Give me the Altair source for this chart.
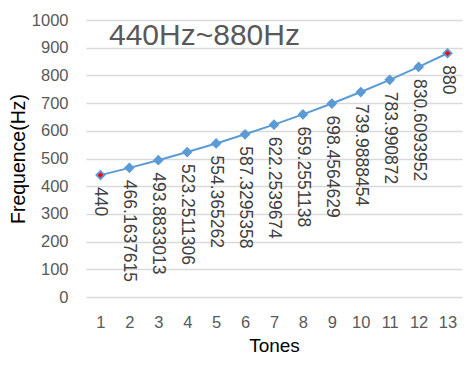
import altair as alt
import pandas as pd

tones = list(range(1, 14))
freqs = [440, 466.1637615, 493.8833013, 523.2511306, 554.365262, 587.3295358,
         622.2539674, 659.2551138, 698.4564629, 739.9888454, 783.990872,
         830.6093952, 880]
labels = ["440", "466.1637615", "493.8833013", "523.2511306", "554.365262",
          "587.3295358", "622.2539674", "659.2551138", "698.4564629",
          "739.9888454", "783.990872", "830.6093952", "880"]
highlight = [True] + [False] * 11 + [True]

df = pd.DataFrame({"tone": tones, "freq": freqs, "label": labels, "hl": highlight})

FONT = "Liberation Sans"
BLUE = "#5B9BD5"

x = alt.X("tone:O", scale=alt.Scale(type="point", padding=0.5),
          axis=alt.Axis(title="Tones", labelAngle=0, labelFontSize=16.5, labelColor="#595959",
                        labelFont=FONT, titleFont=FONT, titleFontSize=19, titleFontWeight="normal",
                        titleColor="#000000", labelPadding=17, titlePadding=6,
                        ticks=False, domain=False, grid=False))
y = alt.Y("freq:Q", scale=alt.Scale(domain=[0, 1000], nice=False),
          axis=alt.Axis(title="Frequence(Hz)", values=list(range(0, 1001, 100)), format="d",
                        labelFontSize=16.5, labelColor="#595959", labelFont=FONT,
                        titleFont=FONT, titleFontSize=19.5, titleFontWeight="normal",
                        titleColor="#000000", labelPadding=18, titlePadding=3,
                        ticks=False, domain=False, gridColor="#D9D9D9", gridWidth=1.5))

base = alt.Chart(df)
line = base.mark_line(color=BLUE, strokeWidth=2).encode(x=x, y=y)
pts = base.mark_point(shape="diamond", filled=True, color=BLUE, size=115, opacity=1).encode(x=x, y=y)
red = base.transform_filter("datum.hl").mark_point(shape="diamond", filled=True, color="#FF0000",
                                                   size=30, opacity=1).encode(x=x, y=y)
txt = base.mark_text(angle=90, align="left", baseline="middle", dx=12, fontSize=17.5,
                     font=FONT, color="#404040").encode(x=x, y=y, text="label:N")
title = alt.Chart(pd.DataFrame({"t": ["440Hz~880Hz"]})).mark_text(
    align="left", baseline="middle", fontSize=30, font=FONT, color="#595959"
).encode(x=alt.value(23), y=alt.value(16), text="t:N")

chart = alt.layer(line, pts, red, txt, title).properties(
    width=376, height=277,
    autosize=alt.AutoSizeParams(type="none"),
    padding={"left": 78, "top": 12, "right": 5, "bottom": 62},
).configure_view(stroke=None)

chart.save("out.html", embed_options={"renderer": "svg", "actions": False})
